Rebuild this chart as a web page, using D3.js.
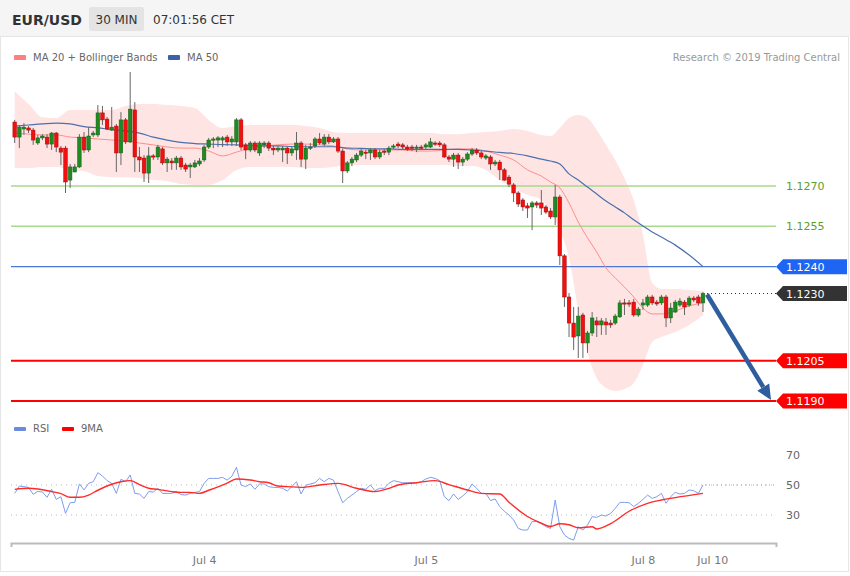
<!DOCTYPE html>
<html><head><meta charset="utf-8">
<script src="https://cdn.jsdelivr.net/npm/d3@7"></script>
<style>body{margin:0;background:#fff;} svg{display:block;font-family:"DejaVu Sans",sans-serif;}</style>
</head><body><svg id="c" width="850" height="576"></svg>
<script>
// ---------------- DATA ----------------
const open = [1.12938,1.12882,1.12912,1.12916,1.12908,1.12860,1.12879,1.12882,1.12856,1.12897,
 1.12841,1.12841,1.12722,1.12752,1.12771,1.12882,1.12834,1.12890,1.12890,1.12972,
 1.12949,1.12908,1.12923,1.12823,1.12946,1.12864,1.12983,1.12808,1.12804,1.12748,
 1.12812,1.12808,1.12838,1.12786,1.12793,1.12786,1.12804,1.12778,1.12771,1.12771,
 1.12782,1.12797,1.12845,1.12871,1.12871,1.12871,1.12882,1.12864,1.12864,1.12946,
 1.12853,1.12834,1.12860,1.12823,1.12853,1.12860,1.12841,1.12834,1.12834,1.12841,
 1.12823,1.12834,1.12860,1.12800,1.12841,1.12849,1.12875,1.12856,1.12882,1.12864,
 1.12875,1.12830,1.12756,1.12786,1.12797,1.12815,1.12826,1.12823,1.12834,1.12808,
 1.12830,1.12826,1.12845,1.12856,1.12853,1.12845,1.12845,1.12841,1.12845,1.12845,
 1.12845,1.12860,1.12860,1.12853,1.12808,1.12800,1.12815,1.12789,1.12800,1.12819,
 1.12834,1.12823,1.12804,1.12808,1.12782,1.12789,1.12760,1.12733,1.12704,1.12674,
 1.12648,1.12626,1.12622,1.12637,1.12637,1.12622,1.12607,1.12585,1.12659,1.12440,
 1.12287,1.12190,1.12142,1.12220,1.12116,1.12153,1.12198,1.12183,1.12194,1.12190,
 1.12190,1.12213,1.12265,1.12265,1.12268,1.12220,1.12257,1.12257,1.12287,1.12268,
 1.12265,1.12287,1.12209,1.12231,1.12257,1.12268,1.12257,1.12283,1.12287,1.12265];
const high = [1.12946,1.12927,1.12934,1.12923,1.12916,1.12890,1.12893,1.12893,1.12901,1.12901,
 1.12849,1.12849,1.12782,1.12782,1.12893,1.12901,1.12919,1.12905,1.13001,1.12998,
 1.12957,1.12994,1.12931,1.12975,1.12953,1.13124,1.13012,1.12845,1.12815,1.12845,
 1.12819,1.12853,1.12845,1.12808,1.12804,1.12812,1.12812,1.12786,1.12786,1.12797,
 1.12804,1.12853,1.12879,1.12882,1.12886,1.12886,1.12890,1.12886,1.12953,1.12953,
 1.12860,1.12867,1.12867,1.12867,1.12867,1.12867,1.12849,1.12849,1.12849,1.12849,
 1.12845,1.12901,1.12867,1.12853,1.12860,1.12882,1.12897,1.12893,1.12893,1.12882,
 1.12882,1.12838,1.12793,1.12808,1.12823,1.12838,1.12834,1.12841,1.12841,1.12834,
 1.12838,1.12849,1.12856,1.12864,1.12860,1.12853,1.12853,1.12853,1.12853,1.12860,
 1.12879,1.12867,1.12867,1.12860,1.12815,1.12823,1.12823,1.12808,1.12826,1.12841,
 1.12841,1.12830,1.12819,1.12815,1.12797,1.12797,1.12767,1.12741,1.12711,1.12681,
 1.12655,1.12637,1.12644,1.12644,1.12685,1.12629,1.12618,1.12704,1.12667,1.12447,
 1.12302,1.12250,1.12250,1.12228,1.12161,1.12231,1.12213,1.12209,1.12209,1.12202,
 1.12224,1.12276,1.12280,1.12276,1.12280,1.12250,1.12280,1.12295,1.12295,1.12276,
 1.12295,1.12295,1.12265,1.12276,1.12283,1.12276,1.12291,1.12291,1.12295,1.12306];
const low = [1.12860,1.12841,1.12890,1.12897,1.12853,1.12853,1.12871,1.12841,1.12834,1.12826,
 1.12778,1.12674,1.12693,1.12752,1.12767,1.12823,1.12826,1.12882,1.12882,1.12927,
 1.12908,1.12905,1.12752,1.12778,1.12856,1.12860,1.12752,1.12752,1.12715,1.12711,
 1.12797,1.12797,1.12778,1.12752,1.12760,1.12760,1.12760,1.12752,1.12730,1.12767,
 1.12774,1.12789,1.12838,1.12841,1.12845,1.12845,1.12849,1.12849,1.12849,1.12834,
 1.12800,1.12826,1.12826,1.12812,1.12841,1.12830,1.12815,1.12826,1.12789,1.12782,
 1.12812,1.12797,1.12771,1.12763,1.12834,1.12841,1.12853,1.12849,1.12856,1.12860,
 1.12823,1.12711,1.12748,1.12774,1.12789,1.12808,1.12800,1.12797,1.12800,1.12800,
 1.12815,1.12815,1.12838,1.12841,1.12834,1.12830,1.12830,1.12826,1.12838,1.12834,
 1.12841,1.12849,1.12845,1.12804,1.12789,1.12771,1.12763,1.12774,1.12793,1.12812,
 1.12815,1.12800,1.12797,1.12760,1.12774,1.12722,1.12719,1.12696,1.12640,1.12622,
 1.12607,1.12581,1.12536,1.12618,1.12592,1.12596,1.12577,1.12555,1.12406,1.12250,
 1.12138,1.12090,1.12060,1.12060,1.12079,1.12142,1.12138,1.12146,1.12146,1.12172,
 1.12183,1.12209,1.12220,1.12250,1.12213,1.12213,1.12239,1.12250,1.12257,1.12254,
 1.12257,1.12175,1.12190,1.12228,1.12250,1.12220,1.12250,1.12268,1.12254,1.12231];
const close = [1.12882,1.12919,1.12919,1.12908,1.12871,1.12879,1.12886,1.12856,1.12897,1.12845,
 1.12826,1.12715,1.12771,1.12771,1.12882,1.12834,1.12886,1.12897,1.12972,1.12946,
 1.12912,1.12919,1.12823,1.12946,1.12864,1.12986,1.12808,1.12797,1.12748,1.12812,
 1.12808,1.12845,1.12786,1.12800,1.12786,1.12804,1.12771,1.12763,1.12778,1.12786,
 1.12793,1.12845,1.12871,1.12875,1.12879,1.12879,1.12864,1.12875,1.12946,1.12845,
 1.12834,1.12860,1.12834,1.12860,1.12860,1.12841,1.12834,1.12841,1.12841,1.12823,
 1.12838,1.12860,1.12800,1.12841,1.12845,1.12875,1.12860,1.12882,1.12864,1.12875,
 1.12830,1.12756,1.12786,1.12800,1.12815,1.12830,1.12823,1.12834,1.12808,1.12826,
 1.12826,1.12841,1.12849,1.12849,1.12845,1.12838,1.12841,1.12845,1.12841,1.12853,
 1.12864,1.12856,1.12853,1.12808,1.12800,1.12815,1.12789,1.12800,1.12819,1.12834,
 1.12823,1.12808,1.12812,1.12782,1.12789,1.12760,1.12722,1.12707,1.12674,1.12633,
 1.12622,1.12618,1.12637,1.12629,1.12618,1.12603,1.12585,1.12659,1.12440,1.12287,
 1.12190,1.12138,1.12216,1.12116,1.12153,1.12209,1.12183,1.12198,1.12183,1.12183,
 1.12216,1.12265,1.12261,1.12261,1.12220,1.12242,1.12265,1.12287,1.12265,1.12261,
 1.12287,1.12209,1.12246,1.12268,1.12272,1.12250,1.12283,1.12276,1.12265,1.12300];

// indicator samples (candle index -> value)
const bandIdx = [0,3,6,9,12,15,18,21,24,27,30,33,36,39,42,45,48,51,54,57,60,63,66,69,72,75,78,81,84,87,90,93,96,99,102,105,108,111,114,116,118,120,122,124,126,128,130,132,134,136,138,140,143,146,149];
const upperBand = [1.13053,1.13005,1.12956,1.12953,1.12983,1.12983,1.12983,1.12983,1.12998,1.13005,1.13005,1.13001,1.12998,1.12990,1.12946,1.12916,1.12923,1.12927,1.12927,1.12927,1.12927,1.12923,1.12916,1.12901,1.12897,1.12897,1.12897,1.12897,1.12897,1.12897,1.12897,1.12893,1.12893,1.12897,1.12901,1.12905,1.12912,1.12905,1.12890,1.12886,1.12916,1.12953,1.12964,1.12953,1.12908,1.12853,1.12797,1.12730,1.12648,1.12518,1.12339,1.12317,1.12317,1.12313,1.12309];
const lowerBand = [1.12767,1.12767,1.12771,1.12771,1.12760,1.12756,1.12737,1.12733,1.12733,1.12730,1.12722,1.12719,1.12707,1.12704,1.12704,1.12722,1.12760,1.12771,1.12771,1.12771,1.12771,1.12767,1.12767,1.12771,1.12778,1.12778,1.12778,1.12778,1.12778,1.12778,1.12778,1.12778,1.12774,1.12774,1.12760,1.12722,1.12693,1.12667,1.12648,1.12603,1.12536,1.12432,1.12239,1.12079,1.11986,1.11949,1.11937,1.11945,1.11967,1.12034,1.12120,1.12138,1.12157,1.12183,1.12220];
const ma20 = [1.12897,1.12893,1.12890,1.12890,1.12882,1.12879,1.12875,1.12871,1.12867,1.12860,1.12853,1.12845,1.12841,1.12841,1.12830,1.12812,1.12826,1.12841,1.12849,1.12853,1.12856,1.12856,1.12853,1.12849,1.12838,1.12834,1.12834,1.12834,1.12834,1.12830,1.12830,1.12834,1.12838,1.12838,1.12830,1.12815,1.12797,1.12760,1.12737,1.12715,1.12693,1.12637,1.12566,1.12507,1.12454,1.12395,1.12358,1.12324,1.12287,1.12246,1.12224,1.12224,1.12235,1.12254,1.12265];
const ma50 = [1.12923,1.12927,1.12931,1.12934,1.12931,1.12921,1.12916,1.12910,1.12905,1.12897,1.12882,1.12871,1.12862,1.12858,1.12856,1.12854,1.12853,1.12851,1.12849,1.12849,1.12847,1.12846,1.12846,1.12846,1.12841,1.12840,1.12838,1.12838,1.12836,1.12836,1.12836,1.12836,1.12836,1.12834,1.12830,1.12825,1.12821,1.12812,1.12800,1.12793,1.12782,1.12745,1.12722,1.12696,1.12670,1.12644,1.12622,1.12600,1.12574,1.12551,1.12529,1.12510,1.12480,1.12443,1.12400];

const rsi = [44.4,49.3,48.9,48.4,43.8,45.8,45.3,41.8,47.1,40.4,
 42.2,31.1,38.2,38.4,50.7,46.7,51.1,52.2,58.2,56.0,
 52.9,51.1,44.4,53.8,52.2,56.7,44.4,44.0,41.1,45.6,
 45.3,47.8,44.4,44.4,44.4,45.6,43.6,43.3,44.4,45.1,
 45.6,51.1,54.4,54.4,54.4,55.1,53.3,55.8,61.8,50.0,
 48.9,50.7,47.1,50.7,50.7,48.9,48.4,48.4,47.8,46.0,
 48.9,52.2,44.0,49.8,50.7,51.5,54.4,52.2,54.4,53.3,
 45.6,38.2,41.1,43.3,45.6,47.8,47.1,50.0,46.2,47.8,
 47.8,51.1,52.9,52.2,51.5,51.5,51.5,51.5,52.2,54.0,
 55.1,54.4,52.9,42.2,39.6,44.0,40.4,42.7,45.6,50.7,
 47.8,44.4,44.4,39.6,40.7,35.6,32.5,30.0,26.7,21.1,
 20.0,20.0,25.6,25.6,24.4,22.2,21.1,40.0,22.2,16.7,
 14.4,13.3,22.2,20.0,23.3,28.9,28.4,30.0,29.3,31.1,
 34.4,38.4,38.4,38.2,35.6,37.8,40.4,43.3,41.1,42.2,
 44.4,37.8,42.2,45.1,44.0,44.4,46.7,46.2,44.4,50.0];
const rsiMaIdx = [0,3,5,8,10,12,14,16,18,21,23,25,27,29,31,34,36,38,40,42,44,46,48,51,53,55,57,59,62,66,70,74,78,81,83,87,91,94,98,101,105,107,111,114,116,118,120,122,125,126,129,133,137,140,143,149];
const rsiMa = [47.1,47.8,47.3,45.6,44.3,41.8,41.8,43.3,46.5,50.5,52.2,52.9,50.3,47.8,47.1,45.6,45.1,45.1,44.4,46.5,48.7,51.2,54.0,53.3,52.2,51.5,49.3,48.9,48.4,50.0,51.1,47.8,45.6,47.8,50.0,51.5,52.9,50.3,46.7,44.4,44.0,38.5,29.0,24.5,22.3,24.2,23.5,21.5,22.2,20.7,24.2,32.5,37.8,40.0,41.6,44.4];

const resistances = [1.1270, 1.1255];
const pivot = 1.1240;
const lastPrice = 1.1230;
const supports = [1.1205, 1.1190];
const rsiTicks = [70, 50, 30];
const rsiGrid = [50, 30];
const dateIdx = [41, 89, 136, 151];
const dateLabels = ["Jul 4", "Jul 5", "Jul 8", "Jul 10"];

// ---------------- CHART ----------------
const svg = d3.select('#c');
const N = close.length;
const plotL = 11, plotR = 776;
const x = d3.scaleLinear().domain([0, N - 1]).range([14.7, 703]);
const y = d3.scaleLinear().domain([1.1190, 1.1270]).range([401, 186]);
const yr = d3.scaleLinear().domain([30, 70]).range([515, 455]);
const fmt = d3.format('.4f');

// header
svg.append('rect').attr('x',0).attr('y',0).attr('width',850).attr('height',36).attr('fill','#f5f5f5');
svg.append('text').attr('x',12).attr('y',25).attr('font-size',14).attr('font-weight','bold').attr('fill','#333').text('EUR/USD');
svg.append('rect').attr('x',89).attr('y',7).attr('width',55).attr('height',24).attr('rx',2).attr('fill','#e4e4e4');
svg.append('text').attr('x',116.5).attr('y',23.5).attr('text-anchor','middle').attr('font-size',12).attr('fill','#333').text('30 MIN');
svg.append('text').attr('x',153).attr('y',23.5).attr('font-size',12).attr('fill','#333').text('07:01:56 CET');
svg.append('rect').attr('x',0.5).attr('y',36.5).attr('width',848).attr('height',535).attr('fill','#fff').attr('stroke','#e6e6e6');

// legend
svg.append('rect').attr('x',14).attr('y',55).attr('width',12).attr('height',5).attr('rx',1).attr('fill','#ff7f7f');
svg.append('text').attr('x',33).attr('y',61).attr('font-size',10).attr('fill','#666').text('MA 20 + Bollinger Bands');
svg.append('rect').attr('x',168).attr('y',55).attr('width',12).attr('height',5).attr('rx',1).attr('fill','#3a62a8');
svg.append('text').attr('x',187).attr('y',61).attr('font-size',10).attr('fill','#666').text('MA 50');
svg.append('text').attr('x',840).attr('y',61).attr('text-anchor','end').attr('font-size',10).attr('fill','#999').text('Research \u00A9 2019 Trading Central');

// bollinger band
const bi = d3.range(bandIdx.length);
svg.append('path').datum(bi)
  .attr('d', d3.area().x(i=>x(bandIdx[i])).y0(i=>y(lowerBand[i])).y1(i=>y(upperBand[i])).curve(d3.curveMonotoneX))
  .attr('fill','#ffe4e4');

// level lines
resistances.forEach(v=>{
  svg.append('line').attr('x1',plotL).attr('x2',plotR).attr('y1',y(v)).attr('y2',y(v)).attr('stroke','#a9d98e').attr('stroke-width',1.5);
  svg.append('text').attr('x',786).attr('y',y(v)+4).attr('font-size',11).attr('fill','#5a9e2c').text(fmt(v));
});
svg.append('line').attr('x1',plotL).attr('x2',plotR).attr('y1',y(pivot)).attr('y2',y(pivot)).attr('stroke','#4a78d2').attr('stroke-width',1.4);
supports.forEach(v=>{
  svg.append('line').attr('x1',plotL).attr('x2',plotR).attr('y1',y(v)).attr('y2',y(v)).attr('stroke','#ff0000').attr('stroke-width',2);
});
svg.append('line').attr('x1',x(N-1)+4).attr('x2',plotR).attr('y1',y(lastPrice)).attr('y2',y(lastPrice))
  .attr('stroke','#333').attr('stroke-width',1).attr('stroke-dasharray','1,3');

// moving averages
svg.append('path').datum(bi)
  .attr('d', d3.line().x(i=>x(bandIdx[i])).y(i=>y(ma20[i])).curve(d3.curveMonotoneX))
  .attr('fill','none').attr('stroke','#ff8c8c').attr('stroke-width',1);
svg.append('path').datum(bi)
  .attr('d', d3.line().x(i=>x(bandIdx[i])).y(i=>y(ma50[i])).curve(d3.curveMonotoneX))
  .attr('fill','none').attr('stroke','#4a70b0').attr('stroke-width',1.2);

// candles
const ci = d3.range(N);
const g = svg.append('g');
g.selectAll('line.w').data(ci).join('line').attr('class','w')
  .attr('x1',i=>x(i)).attr('x2',i=>x(i)).attr('y1',i=>y(high[i])).attr('y2',i=>y(low[i]))
  .attr('stroke','#666').attr('stroke-width',1);
g.selectAll('rect.b').data(ci).join('rect').attr('class','b')
  .attr('x',i=>x(i)-1.8).attr('width',3.6)
  .attr('y',i=>y(Math.max(open[i],close[i])))
  .attr('height',i=>Math.max(1.2, Math.abs(y(open[i])-y(close[i]))))
  .attr('fill',i=>close[i]>=open[i]?'#1f8a1f':'#f01010')
  .attr('stroke',i=>close[i]>=open[i]?'#11601a':'#b00000').attr('stroke-width',0.5);

// tags
function tag(v, color){
  const yc = y(v);
  svg.append('path').attr('d',`M${plotR},${yc} L${plotR+7},${yc-7.5} L847,${yc-7.5} L847,${yc+7.5} L${plotR+7},${yc+7.5} Z`).attr('fill',color);
  svg.append('text').attr('x',786).attr('y',yc+4).attr('font-size',11).attr('fill','#fff').text(fmt(v));
}
tag(pivot,'#1f65f3');
tag(lastPrice,'#333333');
supports.forEach(v=>tag(v,'#ff0000'));

// forecast arrow
(function(){
  const x0 = x(N-1)+4, y0 = y(lastPrice)+1;
  const x1 = plotR-5, y1 = y(supports[1])-1;
  const ang = Math.atan2(y1-y0, x1-x0);
  const hl = 15, hw = 7;
  const bx = x1 - hl*Math.cos(ang), by = y1 - hl*Math.sin(ang);
  svg.append('line').attr('x1',x0).attr('y1',y0).attr('x2',bx).attr('y2',by)
    .attr('stroke','#2e5e9e').attr('stroke-width',4.5);
  const px = -Math.sin(ang), py = Math.cos(ang);
  svg.append('path').attr('d',`M${x1},${y1} L${bx+px*hw},${by+py*hw} L${bx-px*hw},${by-py*hw} Z`).attr('fill','#2e5e9e');
})();

// RSI panel
svg.append('rect').attr('x',14).attr('y',427).attr('width',12).attr('height',4).attr('rx',1).attr('fill','#6b8be0');
svg.append('text').attr('x',33).attr('y',432).attr('font-size',10).attr('fill','#666').text('RSI');
svg.append('rect').attr('x',62).attr('y',427).attr('width',12).attr('height',4).attr('rx',1).attr('fill','#ff0000');
svg.append('text').attr('x',81).attr('y',432).attr('font-size',10).attr('fill','#666').text('9MA');

rsiGrid.forEach(v=>{
  svg.append('line').attr('x1',plotL).attr('x2',plotR).attr('y1',yr(v)).attr('y2',yr(v))
    .attr('stroke','#bbb').attr('stroke-width',1).attr('stroke-dasharray','1,4');
});
const ra = svg.append('g').attr('transform',`translate(${plotR+6},0)`)
  .call(d3.axisRight(yr).tickValues(rsiTicks).tickSize(0).tickPadding(4));
ra.select('.domain').remove();
ra.selectAll('text').attr('font-size',11).attr('fill','#666').attr('font-family','"DejaVu Sans",sans-serif');

svg.append('path').datum(ci)
  .attr('d', d3.line().x(i=>x(i)).y(i=>yr(rsi[i])))
  .attr('fill','none').attr('stroke','#7f9ded').attr('stroke-width',1);
svg.append('line').attr('x1',x(N-1)+2).attr('x2',plotR).attr('y1',yr(rsi[N-1])).attr('y2',yr(rsi[N-1]))
  .attr('stroke','#7f9ded').attr('stroke-width',1.2).attr('stroke-dasharray','1,3');
const mi = d3.range(rsiMaIdx.length);
svg.append('path').datum(mi)
  .attr('d', d3.line().x(i=>x(rsiMaIdx[i])).y(i=>yr(rsiMa[i])).curve(d3.curveMonotoneX))
  .attr('fill','none').attr('stroke','#ff2a2a').attr('stroke-width',1.4);

// date axis
const xa = x.copy().domain([x.invert(plotL), x.invert(plotR)]).range([plotL, plotR]);
const xaG = svg.append('g').attr('transform','translate(0,543)')
  .call(d3.axisBottom(xa).tickValues(dateIdx).tickFormat((d,i)=>dateLabels[i]).tickSizeInner(0).tickSizeOuter(4).tickPadding(13));
xaG.select('.domain').attr('stroke','#bbb').attr('stroke-width',2);
xaG.selectAll('text').attr('font-size',11).attr('fill','#777').attr('font-family','"DejaVu Sans",sans-serif');
</script></body></html>
